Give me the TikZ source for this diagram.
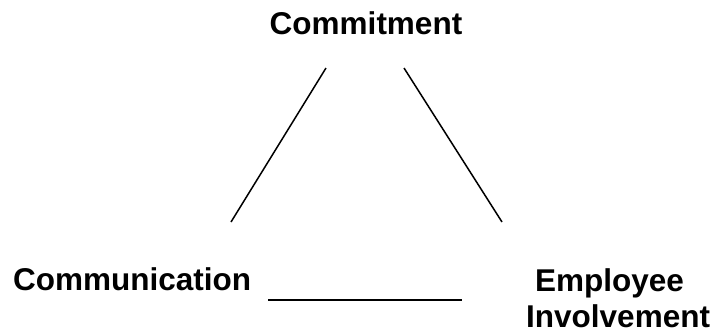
\documentclass[tikz,border=0pt]{standalone}
\usepackage{fontspec}
\setmainfont{Liberation Sans}
\usetikzlibrary{positioning}

\begin{document}
\begin{tikzpicture}[x=1pt,y=-1pt,every node/.style={font=\fontsize{31.5}{36}\selectfont\bfseries,inner sep=0pt},side/.style={line width=1.5pt}]
\useasboundingbox (0,0) rectangle (710,333);
\node (commit) at (366,23) {Commitment};
\node[anchor=base west] (comm) at (13,290) {Communication};
\node[anchor=north west,align=left] (invol) at (526,268) {\hspace{9pt}Employee\\Involvement};
% triangle sides
\coordinate (lt) at (326,68); \coordinate (lb) at (231,222);
\coordinate (rt) at (404,68); \coordinate (rb) at (502,222);
\coordinate (bl) at (268,300); \coordinate (br) at (462,300);
\draw[side] (lt) -- (lb);
\draw[side] (rt) -- (rb);
\draw[side] (bl) -- (br);
\end{tikzpicture}
\end{document}
